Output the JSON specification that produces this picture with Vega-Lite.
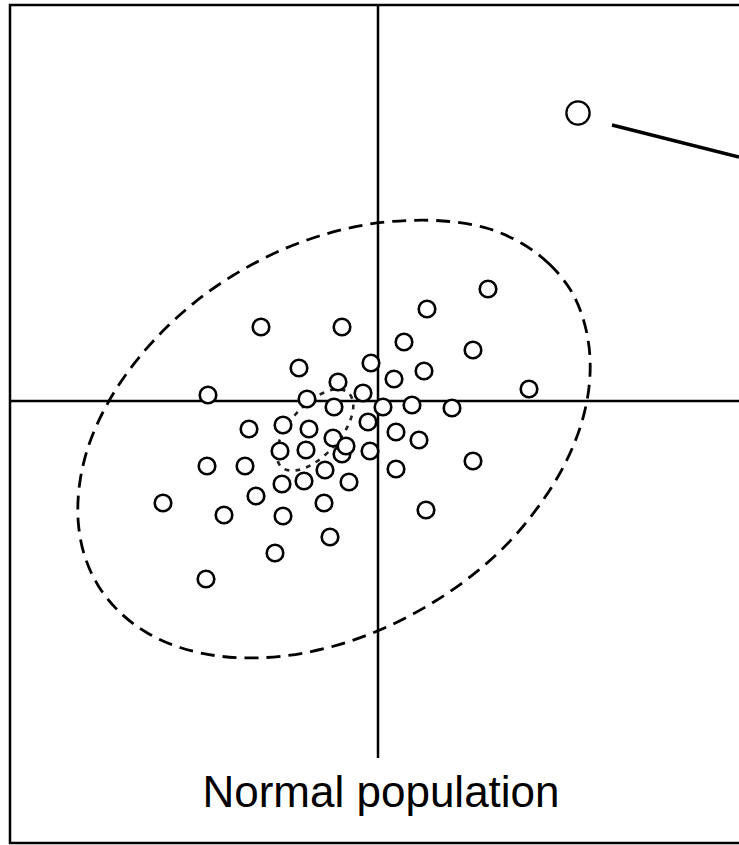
{
  "$schema": "https://vega.github.io/schema/vega-lite/v6.json",
  "width": 735,
  "height": 838,
  "autosize": {"type": "none"},
  "padding": {"left": 10, "top": 5, "right": 0, "bottom": 2},
  "background": "white",
  "config": {"view": {"stroke": "black", "strokeWidth": 2.5}},
  "datasets": {
    "outer": [
      {"i": 0, "x": 1.926, "y": 1.109}, {"i": 1, "x": 1.713, "y": 1.370}, {"i": 2, "x": 1.436, "y": 1.577},
      {"i": 3, "x": 1.100, "y": 1.725}, {"i": 4, "x": 0.717, "y": 1.795}, {"i": 5, "x": 0.301, "y": 1.805},
      {"i": 6, "x": -0.139, "y": 1.760}, {"i": 7, "x": -0.588, "y": 1.650}, {"i": 8, "x": -1.031, "y": 1.480},
      {"i": 9, "x": -1.458, "y": 1.250}, {"i": 10, "x": -1.845, "y": 0.977}, {"i": 11, "x": -2.196, "y": 0.654},
      {"i": 12, "x": -2.495, "y": 0.300}, {"i": 13, "x": -2.731, "y": -0.074}, {"i": 14, "x": -2.897, "y": -0.456},
      {"i": 15, "x": -2.985, "y": -0.837}, {"i": 16, "x": -2.998, "y": -1.203}, {"i": 17, "x": -2.935, "y": -1.544},
      {"i": 18, "x": -2.796, "y": -1.849}, {"i": 19, "x": -2.585, "y": -2.110}, {"i": 20, "x": -2.310, "y": -2.317},
      {"i": 21, "x": -1.980, "y": -2.465}, {"i": 22, "x": -1.597, "y": -2.550}, {"i": 23, "x": -1.181, "y": -2.568},
      {"i": 24, "x": -0.741, "y": -2.520}, {"i": 25, "x": -0.292, "y": -2.406}, {"i": 26, "x": 0.151, "y": -2.231},
      {"i": 27, "x": 0.578, "y": -1.998}, {"i": 28, "x": 0.975, "y": -1.717}, {"i": 29, "x": 1.326, "y": -1.394},
      {"i": 30, "x": 1.615, "y": -1.040}, {"i": 31, "x": 1.850, "y": -0.666}, {"i": 32, "x": 2.015, "y": -0.284},
      {"i": 33, "x": 2.105, "y": 0.097}, {"i": 34, "x": 2.118, "y": 0.463}, {"i": 35, "x": 2.057, "y": 0.804}
    ],
    "inner": [
      {"i": 0, "x": -0.295, "y": 0.082}, {"i": 1, "x": -0.433, "y": 0.116}, {"i": 2, "x": -0.623, "y": 0.041},
      {"i": 3, "x": -0.816, "y": -0.123}, {"i": 4, "x": -0.959, "y": -0.331}, {"i": 5, "x": -1.013, "y": -0.528},
      {"i": 6, "x": -0.965, "y": -0.662}, {"i": 7, "x": -0.827, "y": -0.696}, {"i": 8, "x": -0.637, "y": -0.621},
      {"i": 9, "x": -0.444, "y": -0.457}, {"i": 10, "x": -0.301, "y": -0.249}, {"i": 11, "x": -0.247, "y": -0.052}
    ],
    "axes": [
      {"x": 0, "y": 3.96, "x2": 0, "y2": -3.57},
      {"x": -3.68, "y": 0, "x2": 3.65, "y2": 0}
    ],
    "connector": [
      {"x": 2.34, "y": 2.76, "x2": 3.61, "y2": 2.44}
    ],
    "points": [
      {"x": 1.10, "y": 1.12}, {"x": 0.49, "y": 0.92}, {"x": -1.17, "y": 0.74}, {"x": -0.36, "y": 0.74},
      {"x": 0.26, "y": 0.59}, {"x": 0.95, "y": 0.51}, {"x": -0.07, "y": 0.38}, {"x": -0.79, "y": 0.33},
      {"x": 0.46, "y": 0.30}, {"x": 0.16, "y": 0.22}, {"x": -0.40, "y": 0.19}, {"x": -0.15, "y": 0.08},
      {"x": 1.51, "y": 0.12}, {"x": -1.70, "y": 0.06}, {"x": -0.71, "y": 0.02}, {"x": -0.44, "y": -0.06},
      {"x": 0.05, "y": -0.06}, {"x": 0.34, "y": -0.04}, {"x": 0.74, "y": -0.07}, {"x": -1.29, "y": -0.28},
      {"x": -0.95, "y": -0.24}, {"x": -0.69, "y": -0.28}, {"x": -0.10, "y": -0.21}, {"x": 0.18, "y": -0.31},
      {"x": 0.41, "y": -0.39}, {"x": -0.45, "y": -0.37}, {"x": -0.98, "y": -0.50}, {"x": -0.72, "y": -0.49},
      {"x": -0.36, "y": -0.53}, {"x": -0.32, "y": -0.45}, {"x": -0.08, "y": -0.50},
      {"x": -1.71, "y": -0.65}, {"x": -1.33, "y": -0.65}, {"x": 0.95, "y": -0.60}, {"x": -0.53, "y": -0.69},
      {"x": 0.18, "y": -0.68}, {"x": -0.96, "y": -0.83}, {"x": -0.74, "y": -0.80}, {"x": -0.29, "y": -0.81},
      {"x": -1.22, "y": -0.95}, {"x": -2.15, "y": -1.02}, {"x": -0.54, "y": -1.02}, {"x": -1.54, "y": -1.14},
      {"x": -0.95, "y": -1.15}, {"x": 0.48, "y": -1.09}, {"x": -0.48, "y": -1.36}, {"x": -1.03, "y": -1.52},
      {"x": -1.72, "y": -1.78}
    ],
    "outlier": [{"x": 2.00, "y": 2.88}],
    "label": [{"x": 0.03, "y": -4.06, "text": "Normal population"}]
  },
  "encoding": {
    "x": {"field": "x", "type": "quantitative", "axis": null, "scale": {"domain": [-3.68, 3.67], "nice": false, "zero": false}},
    "y": {"field": "y", "type": "quantitative", "axis": null, "scale": {"domain": [-4.42, 3.96], "nice": false, "zero": false}}
  },
  "layer": [
    {
      "data": {"name": "outer"},
      "mark": {"type": "line", "interpolate": "cardinal-closed", "color": "black", "strokeWidth": 2.8, "strokeDash": [14, 8]},
      "encoding": {"order": {"field": "i", "type": "quantitative"}}
    },
    {
      "data": {"name": "inner"},
      "mark": {"type": "line", "interpolate": "cardinal-closed", "color": "#222222", "strokeWidth": 2.6, "strokeDash": [5, 6]},
      "encoding": {"order": {"field": "i", "type": "quantitative"}}
    },
    {
      "data": {"name": "axes"},
      "mark": {"type": "rule", "color": "black", "strokeWidth": 2.5},
      "encoding": {"x2": {"field": "x2"}, "y2": {"field": "y2"}}
    },
    {
      "data": {"name": "connector"},
      "mark": {"type": "rule", "color": "black", "strokeWidth": 3.5},
      "encoding": {"x2": {"field": "x2"}, "y2": {"field": "y2"}}
    },
    {
      "data": {"name": "points"},
      "mark": {"type": "point", "shape": "circle", "filled": false, "fill": "white", "fillOpacity": 1, "stroke": "black", "strokeWidth": 2.6, "size": 275, "opacity": 1}
    },
    {
      "data": {"name": "outlier"},
      "mark": {"type": "point", "shape": "circle", "filled": false, "fill": "white", "fillOpacity": 1, "stroke": "black", "strokeWidth": 2.3, "size": 540, "opacity": 1}
    },
    {
      "data": {"name": "label"},
      "mark": {"type": "text", "font": "Liberation Sans", "fontSize": 44, "align": "center", "baseline": "alphabetic", "color": "black"},
      "encoding": {"text": {"field": "text"}}
    }
  ]
}
